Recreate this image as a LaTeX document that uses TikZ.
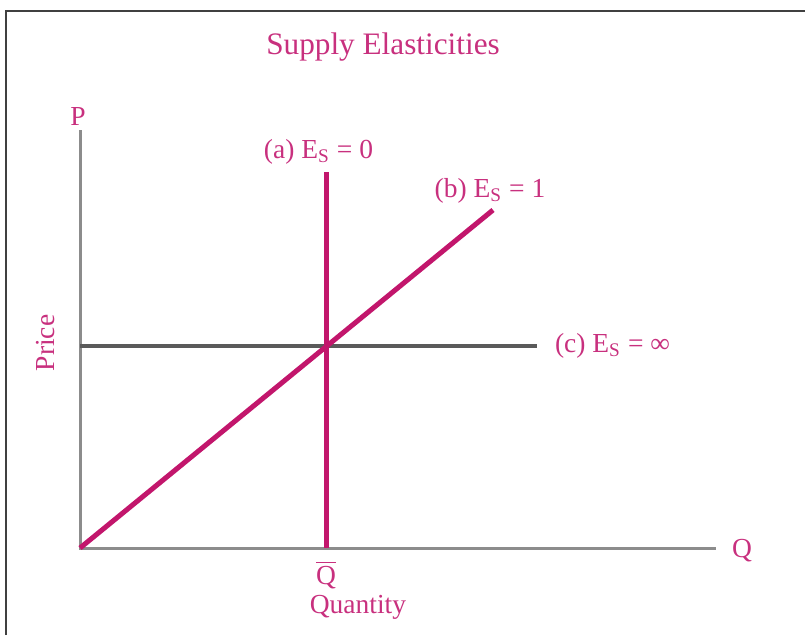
\documentclass[tikz,border=0pt]{standalone}
\usepackage{fontspec}
\setmainfont{Liberation Serif}
\usetikzlibrary{positioning}
\definecolor{supplymag}{HTML}{C2166C}
\definecolor{labelpink}{HTML}{C8307E}
\definecolor{axisgray}{HTML}{8C8C8C}
\definecolor{flatgray}{HTML}{5A5A5A}
\tikzset{
  lbl/.style={text=labelpink, font=\fontsize{11}{13}\selectfont, inner sep=1pt},
  curve/.style={supplymag, line width=2pt},
}
\begin{document}
\begin{tikzpicture}[x=0.4pt,y=-0.4pt]
\useasboundingbox (0,0) rectangle (805,635);
\draw[black!75, line width=1pt] (6,635) -- (6,11) -- (805,11);
\node[lbl, font=\fontsize{12.5}{14}\selectfont] (title) at (383,47) {Supply Elasticities};

% axes
\coordinate (O) at (80,548);
\coordinate (Ptop) at (80,130);
\coordinate (Qend) at (716,548);
\draw[axisgray, line width=1.2pt] (Ptop) -- (O) -- (Qend);
\node[lbl] (P) at (78,116) {P};
\node[lbl] (Q) at (742,551) {Q};
\node[lbl, rotate=90] (price) at (46,343) {Price};
\node[lbl] (qty) at (358,607) {Quantity};

% three supply curves
\coordinate (Qbar) at (326,548);
\coordinate (atop) at (326,172);
\coordinate (btop) at (493,210);
\coordinate (cleft) at (80,346);
\coordinate (cright) at (537,346);
\draw[flatgray, line width=1.6pt] (cleft) -- (cright);
\draw[curve] (O) -- (btop);
\draw[curve] (Qbar) -- (atop);
\node[lbl, below=4pt of Qbar] (qb) {$\overline{\mbox{Q}}$};
\node[lbl, above=2pt of atop, xshift=-3pt] (la) {(a) E\textsubscript{S} = 0};
\node[lbl] (lb) at (490,191) {(b) E\textsubscript{S} = 1};
\node[lbl, right=6pt of cright] (lc) {(c) E\textsubscript{S} = ∞};
\end{tikzpicture}
\end{document}
